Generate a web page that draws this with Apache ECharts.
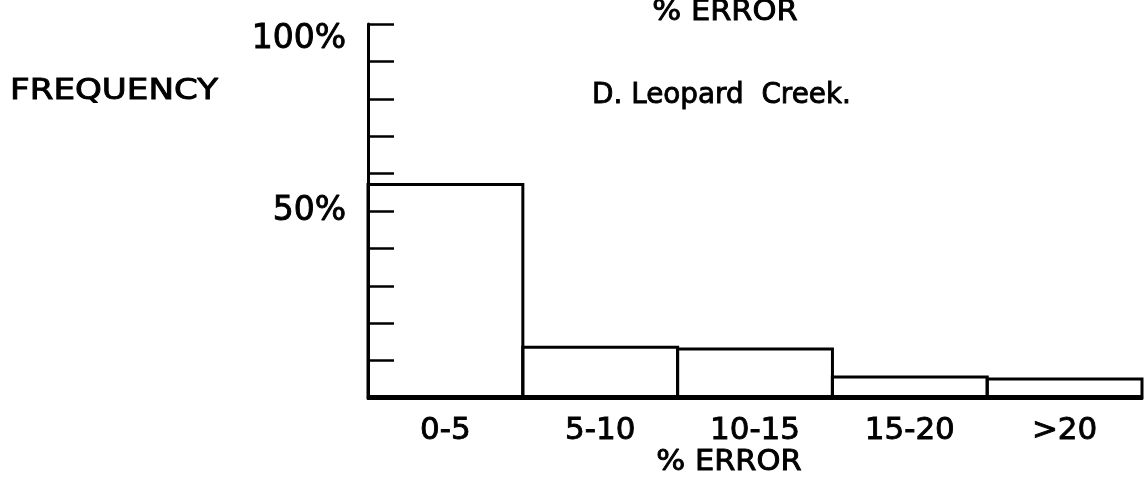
<!DOCTYPE html>
<html>
<head>
<meta charset="utf-8">
<script src="https://cdn.jsdelivr.net/npm/echarts@6/dist/echarts.min.js"></script>
<style>
  html, body { margin: 0; padding: 0; background: #fff; }
  #chart { width: 1144px; height: 485px; }
</style>
</head>
<body>
<div id="chart"></div>
<script>
// error classes along the bottom
const categories = ['0-5', '5-10', '10-15', '15-20', '>20']
// frequency in percent
const frequency = [57.5, 14, 13.5, 6, 5.5]
// only these ticks carry a label
const labeledTicks = [50, 100]

const FONT = 'DejaVu Sans'
const chart = echarts.init(document.getElementById('chart'), null, { renderer: 'canvas' })

// the lettering in the original is drawn with a thick pen
const pen = { stroke: '#000', lineWidth: 0.9 }

const option = {
  backgroundColor: '#ffffff',
  animation: false,
  grid: {
    left: 368,
    right: 2,
    top: 24,
    bottom: 87
  },
  xAxis: {
    type: 'category',
    data: categories,
    axisLine: { show: true, lineStyle: { color: '#000', width: 3 } },
    axisTick: { show: false },
    axisLabel: {
      color: '#000',
      fontFamily: FONT,
      fontSize: 31,
      margin: 17,
      textBorderColor: '#000',
      textBorderWidth: 0.9
    }
  },
  yAxis: {
    type: 'value',
    min: 0,
    max: 100,
    interval: 10,
    axisLine: { show: true, lineStyle: { color: '#000', width: 3 } },
    axisTick: { show: true, inside: true, length: 26, lineStyle: { color: '#000', width: 2.5 } },
    splitLine: { show: false },
    axisLabel: {
      color: '#000',
      fontFamily: FONT,
      fontSize: 33,
      margin: 22,
      textBorderColor: '#000',
      textBorderWidth: 0.9,
      // the top label sits a little below its tick in the original
      formatter: v => (v === 100 ? '{top|100%}' : labeledTicks.indexOf(v) >= 0 ? v + '%' : ''),
      rich: {
        top: { fontFamily: FONT, fontSize: 33, color: '#000', textBorderColor: '#000', textBorderWidth: 0.9, padding: [30, 0, 0, 0] }
      }
    }
  },
  series: [
    {
      type: 'bar',
      data: frequency,
      barWidth: '102%',
      barGap: '-100%',
      itemStyle: {
        color: 'rgba(255,255,255,0)',
        borderColor: '#000',
        borderWidth: 3
      }
    }
  ],
  graphic: [
    {
      type: 'text',
      x: 725, y: 12,
      scaleX: 1.05,
      style: Object.assign({ text: '% ERROR', fontFamily: FONT, fontSize: 29, fill: '#000', textAlign: 'center', textVerticalAlign: 'middle' }, pen)
    },
    {
      type: 'text',
      x: 10, y: 92,
      scaleX: 1.22,
      style: Object.assign({ text: 'FREQUENCY', fontFamily: FONT, fontSize: 28, fill: '#000', textAlign: 'left', textVerticalAlign: 'middle' }, pen)
    },
    {
      type: 'text',
      x: 592, y: 95,
      scaleX: 0.96,
      style: Object.assign({ text: 'D. Leopard  Creek.', fontFamily: FONT, fontSize: 29, fill: '#000', textAlign: 'left', textVerticalAlign: 'middle' }, pen)
    },
    {
      type: 'text',
      x: 729, y: 462,
      scaleX: 1.05,
      style: Object.assign({ text: '% ERROR', fontFamily: FONT, fontSize: 29, fill: '#000', textAlign: 'center', textVerticalAlign: 'middle' }, pen)
    }
  ]
}

chart.setOption(option)
</script>
</body>
</html>
